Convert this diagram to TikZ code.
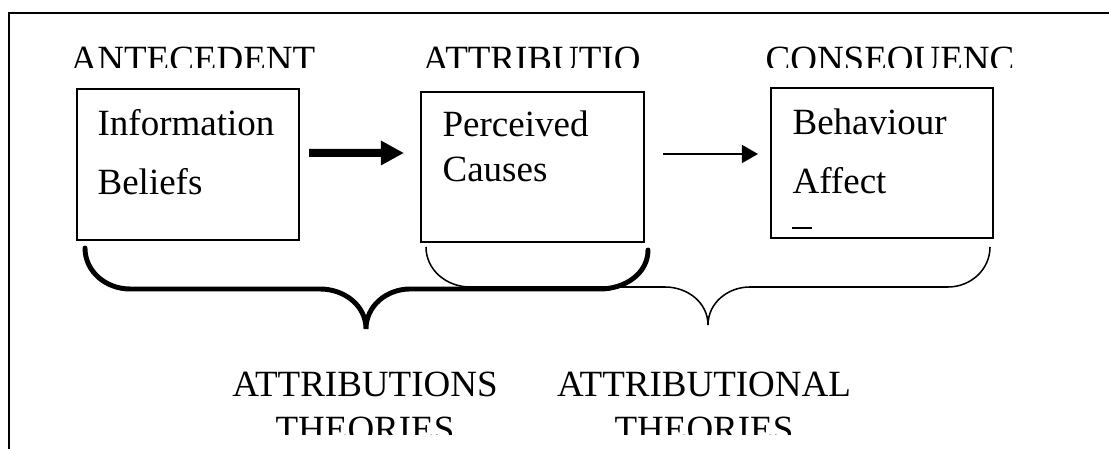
\documentclass[tikz,border=0pt]{standalone}
\usepackage{fontspec}
\setmainfont{Liberation Serif}
\usetikzlibrary{arrows.meta,calc,fit}

\begin{document}
\begin{tikzpicture}[x=0.3243pt,y=-0.3243pt,
    txt/.style={inner sep=0pt,anchor=base west,font=\fontsize{12}{14}\selectfont},
    box/.style={draw,line width=0.65pt,inner sep=0pt},
    fatarrow/.style={line width=2.6pt,-{Triangle[length=7.5pt,width=7.5pt]}},
    slimarrow/.style={line width=0.65pt,-{Triangle[length=5.2pt,width=5.8pt]}},
    heavybrace/.style={line width=1.6pt,line cap=round},
    lightbrace/.style={line width=0.5pt}]
    \useasboundingbox (0,0) rectangle (1109,449);
    \clip (0,0) rectangle (1109,449);

    % Рамка (видно лише верхній і лівий край)
    \draw[line width=0.65pt] (9,460) -- (9,13) -- (1120,13);

    % Заголовки, обрізані знизу
    \begin{scope}
        \clip (0,30) rectangle (1109,68);
        \node[txt] (antehead) at (70,72) {ANTECEDENT};
        \node[txt] (attrhead) at (422,72) {ATTRIBUTIO};
        \node[txt] (conshead) at (765,72) {CONSEQUENC};
    \end{scope}

    % Прямокутники
    \node[box,fit={(77,89) (299,240)}] (ante) {};
    \node[box,fit={(421,92) (644,242)}] (attr) {};
    \node[box,fit={(771,88) (993,238)}] (cons) {};

    % Текст у прямокутниках
    \node[txt] (info) at (97,136) {Information};
    \node[txt] (beliefs) at (97,195) {Beliefs};
    \node[txt] (perc) at (442,137) {Perceived};
    \node[txt] (causes) at (442,182) {Causes};
    \node[txt] (behav) at (792,135) {Behaviour};
    \node[txt] (affect) at (792,194) {Affect};
    \draw[line width=0.4pt] (792,228) -- (812,228);

    % Стрілки
    \draw[fatarrow] ($(ante.east)+(9,-11.5)$) -- ($(attr.west)+(-16,-14)$);
    \draw[slimarrow] ($(attr.east)+(18,-13)$) -- ($(cons.west)+(-12,-9)$);

    % Дужки
    \draw[heavybrace] (85,248) to[out=-90,in=180] (130,289) -- (320,289)
        to[out=0,in=90] (366,329) to[out=90,in=180] (410,289) -- (600,289)
        to[out=0,in=-90] (648,250);
    \draw[lightbrace] (426,247) to[out=-90,in=180] (470,287) -- (665,287)
        to[out=0,in=90] (708,325) to[out=90,in=180] (750,287) -- (948,287)
        to[out=0,in=-90] (990,247);

    % Підписи знизу
    \begin{scope}
        \clip (0,360) rectangle (1109,435);
        \node[txt,anchor=base] (attrs) at (365,397) {ATTRIBUTIONS};
        \node[txt,anchor=base] (attrsth) at (365,441.5) {THEORIES};
        \node[txt,anchor=base] (attrl) at (704,397) {ATTRIBUTIONAL};
        \node[txt,anchor=base] (attrlth) at (704,441.5) {THEORIES};
    \end{scope}
\end{tikzpicture}
\end{document}
